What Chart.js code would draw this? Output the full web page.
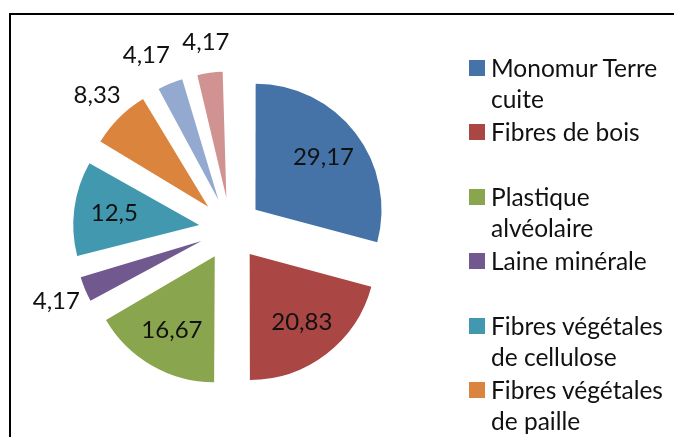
<!DOCTYPE html>
<html>
<head>
<meta charset="utf-8">
<script src="https://cdn.jsdelivr.net/npm/chart.js@4"></script>
<style>
  html, body { margin: 0; padding: 0; background: #fff; }
  #wrap { position: relative; width: 674px; height: 437px; overflow: hidden; font-family: Lato, sans-serif; }
  #frame { position: absolute; left: 9px; top: 13px; width: 720px; height: 520px; border: 2px solid #000; }
  #chart { position: absolute; left: 0; top: 0; }
  .item { position: absolute; left: 469px; width: 205px; font-size: 24.5px; line-height: 31px; color: #111; }
  .item .sw { position: absolute; left: 0; top: 8px; width: 16px; height: 16px; }
  .item .tx { margin-left: 22px; width: 183px; }
</style>
</head>
<body>
<div id="wrap">
  <div id="frame"></div>
  <canvas id="chart" width="674" height="437"></canvas>
  <div id="legend"></div>
</div>
<script>
// Materials share (%)
const categories = [
    'Monomur Terre cuite',
    'Fibres de bois',
    'Plastique alvéolaire',
    'Laine minérale',
    'Fibres végétales de cellulose',
    'Fibres végétales de paille',
    'Fibres végétales de chanvre',
    'Laine de mouton'
];
const values = [29.17, 20.83, 16.67, 4.17, 12.5, 8.33, 4.17, 4.17];
const colors = ['#4572A7', '#AA4643', '#89A54E', '#71588F', '#4198AF', '#DB843D', '#93A9CF', '#D19392'];

function fmt(v) {
    return String(v).replace('.', ',');
}

// chart.js grows thin exploded slices by part of the offset; undo that so all slices share one radius
const sameRadius = {
    id: 'sameRadius',
    beforeDatasetsDraw(chart) {
        const meta = chart.getDatasetMeta(0);
        const R = meta.controller.outerRadius;
        meta.data.forEach(function (arc) {
            const off = (arc.options.offset || 0) / 4;
            const fix = 1 - Math.sin(Math.min(Math.PI, arc.circumference));
            arc.outerRadius = R - off * fix;
        });
    }
};

// value labels: inside the big slices, outside the small ones
const valueLabels = {
    id: 'valueLabels',
    afterDatasetsDraw(chart) {
        const ctx = chart.ctx;
        const meta = chart.getDatasetMeta(0);
        const R = meta.controller.outerRadius;
        ctx.save();
        ctx.font = '24px Lato, sans-serif';
        ctx.fillStyle = '#111';
        ctx.textAlign = 'center';
        ctx.textBaseline = 'middle';
        const placed = [];
        // go backwards so crowded labels get pushed away from the later ones
        for (let i = meta.data.length - 1; i >= 0; i--) {
            const arc = meta.data[i];
            const p = arc.getProps(['x', 'y', 'startAngle', 'endAngle'], true);
            const a = (p.startAngle + p.endAngle) / 2;
            const off = (arc.options.offset || 0) / 4; // chart.js moves a slice by a quarter of the offset
            const outside = values[i] < 10;
            const d = outside ? off + R + 31 : off + R * 0.68;
            const text = fmt(values[i]);
            const w = ctx.measureText(text).width;
            let x = p.x + Math.cos(a) * d;
            const y = p.y + Math.sin(a) * d;
            if (outside) {
                const dir = Math.cos(a) < 0 ? -1 : 1;
                let moved = true;
                while (moved) {
                    moved = false;
                    placed.forEach(function (b) {
                        if (Math.abs(b.y - y) < 24 && Math.abs(b.x - x) < (b.w + w) / 2 + 12) {
                            x += dir * 2;
                            moved = true;
                        }
                    });
                }
                placed.push({ x: x, y: y, w: w });
            }
            ctx.fillText(text, x, y);
        }
        ctx.restore();
    }
};

new Chart(document.getElementById('chart'), {
    type: 'pie',
    data: {
        labels: categories,
        datasets: [{
            data: values,
            backgroundColor: colors,
            borderWidth: 0,
            offset: 126
        }]
    },
    options: {
        responsive: false,
        animation: false,
        radius: 126,
        layout: { padding: { left: 0, right: 213, top: 21, bottom: 0 } },
        plugins: {
            legend: { display: false },
            tooltip: { enabled: false }
        }
    },
    plugins: [sameRadius, valueLabels]
});

// legend on the right, evenly spaced like the original
const legend = document.getElementById('legend');
categories.forEach(function (name, i) {
    const el = document.createElement('div');
    el.className = 'item';
    el.style.top = (52 + i * 64.4) + 'px';
    el.innerHTML = '<div class="sw" style="background:' + colors[i] + '"></div><div class="tx">' + name + '</div>';
    legend.appendChild(el);
});
</script>
</body>
</html>
